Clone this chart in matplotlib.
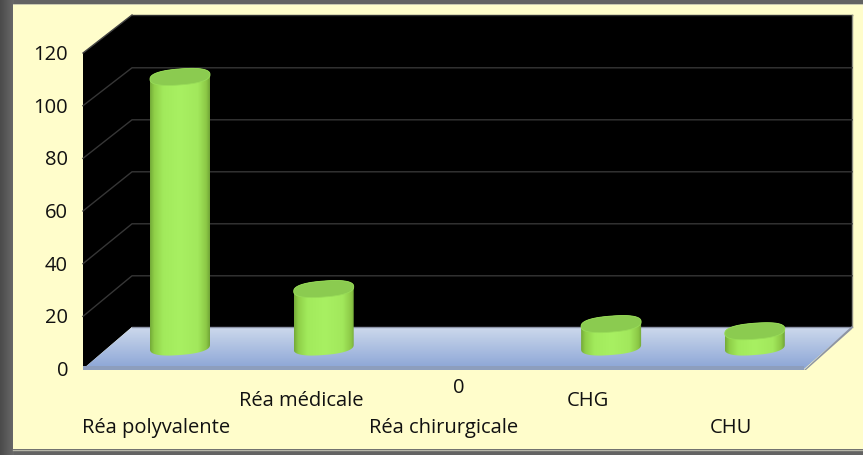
import numpy as np
import matplotlib
matplotlib.use("Agg")
import matplotlib.pyplot as plt
from matplotlib.colors import LinearSegmentedColormap as LSC
from matplotlib.patches import Polygon, Rectangle

categories = ["Réa polyvalente", "Réa médicale", "Réa chirurgicale", "CHG", "CHU"]
values = [102.5, 22, 0, 8.7, 6]
y_ticks = [0, 20, 40, 60, 80, 100, 120]
zero_label = "0"

W, H = 863, 456
plt.rcParams['font.family'] = ['Open Sans', 'DejaVu Sans']
fig = plt.figure(figsize=(W / 100, H / 100), dpi=100)
ax = fig.add_axes([0, 0, 1, 1])
ax.set_axis_off()

X0, DX, Y0, DY = 180.0, 143.7, 348.0, 2.635   # pixel position of category 0 / value 0
xlim = ((0 - X0) / DX, (W - X0) / DX)
ylim = ((Y0 - H) / DY, Y0 / DY)

def dx(px): return (np.asarray(px, float) - X0) / DX
def dy(py): return (Y0 - np.asarray(py, float)) / DY
def P(pts): return np.column_stack([dx([p[0] for p in pts]), dy([p[1] for p in pts])])

def grad(poly_px, stops, horizontal, z):
    pts = np.array(poly_px, float)
    g = np.linspace(0, 1, 256)
    arr = g[None, :] if horizontal else g[:, None]
    l, r, t, b = pts[:, 0].min(), pts[:, 0].max(), pts[:, 1].min(), pts[:, 1].max()
    im = ax.imshow(arr, extent=(dx(l), dx(r), dy(b), dy(t)), origin='upper', aspect='auto',
                   cmap=LSC.from_list('c', stops), vmin=0, vmax=1, zorder=z, interpolation='bilinear')
    clip = Polygon(P(pts), closed=True, transform=ax.transData, fc='none', ec='none')
    im.set_clip_path(clip)
    return im

# page frame
grad([(0, 0), (14, 0), (14, H), (0, H)], ['#4a4a4a', '#6a6a6a'], True, 0)
ax.add_patch(Rectangle((dx(14), dy(H)), dx(W) - dx(14), dy(0) - dy(H), fc='#636363', ec='none', zorder=0))
ax.add_patch(Polygon(P([(13, 5), (W, 5), (W, 450), (13, 450)]), fc='#FFFDCB', ec='none', zorder=1))
ax.plot(dx([13, W]), dy([450.5, 450.5]), color='#b5b5a8', lw=1, zorder=1.5)
ax.plot(dx([13, W]), dy([5, 5]), color='#c8c8b0', lw=0.7, zorder=1.5)

# walls
BL, BR, BT, BB = 132, 852, 16, 328
FL, FR, FB, FT = 83, 804, 370, 54
ax.add_patch(Polygon(P([(BL, BT), (BR, BT), (BR, BB), (BL, BB)]), fc='black', ec='none', zorder=2))
ax.add_patch(Polygon(P([(FL, FT), (BL, BT), (BL, BB), (FL, FB)]), fc='black', ec='none', zorder=2))
ax.plot(dx([BL, BR]), dy([BT, BT]), color='#303030', lw=1, zorder=2.2)
ax.plot(dx([FL, BL]), dy([FT, BT]), color='#444444', lw=1, zorder=2.2)
ax.plot(dx([BR, BR]), dy([BT, BB]), color='#8a8a80', lw=1, zorder=2.2)
pxv_front = (FB - FT) / 120
pxv_back = (BB - BT) / 120
for v in y_ticks:
    yf, yb = FB - v * pxv_front, BB - v * pxv_back + 0.8
    if 0 < v < 120:
        ax.plot(dx([FL, BL, BR]), dy([yf, yb, yb]), color='#363636', lw=1.0, zorder=2.5)
    ax.text(dx(68), dy(yf + 1), str(v), ha='right', va='center', fontsize=14.5, color='#111111', zorder=6)

# floor
grad([(FL, FB), (BL, BB), (BR, BB), (FR, FB)], ['#cdd9ec', '#8ba5d6'], False, 3)
ax.add_patch(Polygon(P([(FL, FB - 3), (FR, FB - 3), (FR, FB + 1), (FL, FB + 1)]), fc='#8d9ebd', ec='none', zorder=3.1))
ax.add_patch(Polygon(P([(FR, FB + 1), (BR, BB - 1), (BR, BB + 2), (FR + 2, FB + 1)]), fc='#8d94a3', ec='none', zorder=3.1))
ax.plot(dx([BL, BR]), dy([BB, BB]), color='#8c93a8', lw=1, zorder=3.2)

# cylinders
A, B, S, Q = 30.0, 8.0, 2.3, 0.82
def ring(t):
    c, s = np.cos(t), np.sin(t)
    u = np.sign(c) * np.abs(c) ** Q
    w = np.sign(s) * np.abs(s) ** Q
    return A * u, B * w + S * u

t_low = np.linspace(np.pi, 2 * np.pi, 80)
t_up = np.linspace(0, np.pi, 80)
t_all = np.linspace(0, 2 * np.pi, 160)
body_stops = [(0, '#74aa38'), (0.07, '#8fcf48'), (0.22, '#a2ea5c'), (0.5, '#a8f062'),
              (0.8, '#a2e85c'), (0.94, '#8cc846'), (1, '#70a436')]
for i, v in enumerate(values):
    if v <= 0:
        continue
    cx = X0 + i * DX
    ctop = Y0 - v * DY
    ox, oy = ring(t_low)
    xb, yb = cx + ox, Y0 - oy
    ox, oy = ring(t_up)
    xt, yt = cx + ox, ctop - oy
    grad(list(zip(xb, yb)) + list(zip(xt, yt)), body_stops, True, 4 + i * 0.01)
    ox, oy = ring(t_all)
    ax.add_patch(Polygon(P(list(zip(cx + ox, ctop - oy))), fc='#8bcb50', ec='#98dc58', lw=0.6, zorder=4.5))

# category labels (staggered in two rows)
label_x = [156, 301, 444, 588, 731]
label_y = [428, 401, 428, 401, 428]
for name, lx, ly in zip(categories, label_x, label_y):
    ax.text(dx(lx), dy(ly), name, ha='center', va='center', fontsize=14.5, color='#111111', zorder=6)
ax.text(dx(459), dy(388), zero_label, ha='center', va='center', fontsize=14.5, color='#111111', zorder=6)

ax.set_xlim(*xlim)
ax.set_ylim(*ylim)
fig.savefig('out.png', dpi=100)
